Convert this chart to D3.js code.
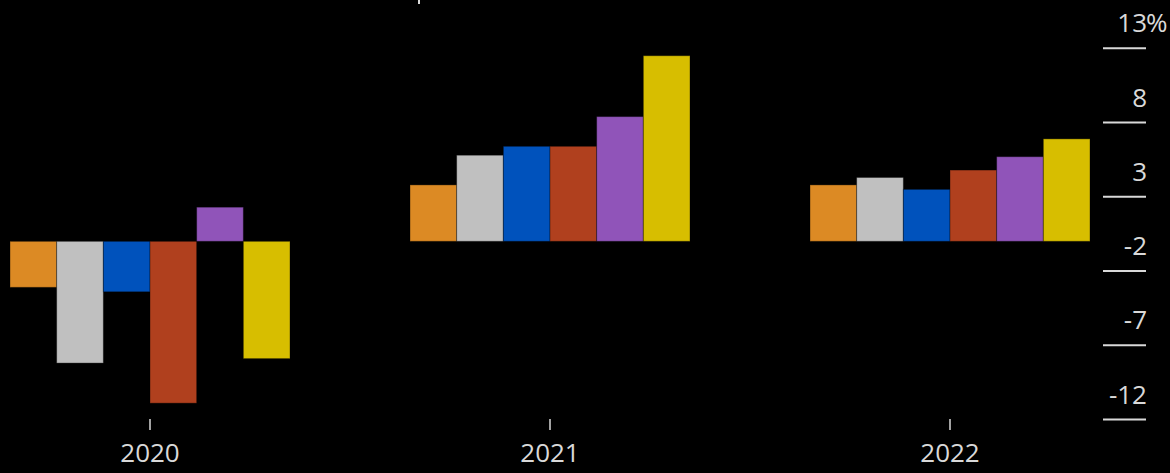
<!DOCTYPE html>
<html>
<head>
<meta charset="utf-8">
<script src="https://cdn.jsdelivr.net/npm/d3@7"></script>
<style>
  html, body { margin: 0; padding: 0; background: #000; }
  svg { display: block; }
  text { font-family: "Open Sans", sans-serif; fill: #d9d9d9; }
</style>
</head>
<body>
<div id="chart"></div>
<script>
// years and series
var years = ["2020", "2021", "2022"];
var seriesNames = ["s1", "s2", "s3", "s4", "s5", "s6"];
var seriesColors = ["#dc8a24", "#c0c0c0", "#0052bc", "#b0401e", "#9054b9", "#d7be00"];

// values per year (%), one per series
var values2020 = [-3.1, -8.2, -3.4, -10.9, 2.3, -7.9];
var values2021 = [3.8, 5.8, 6.4, 6.4, 8.4, 12.5];
var values2022 = [3.8, 4.3, 3.5, 4.8, 5.7, 6.9];

var yTicks = [-12, -7, -2, 3, 8, 13];

var allValues = [values2020, values2021, values2022];
var data = [];
years.forEach(function(yr, i) {
  seriesNames.forEach(function(s, j) {
    data.push({year: yr, series: s, value: allValues[i][j]});
  });
});

// set the dimensions
var width = 1170,
    height = 473;

var svg = d3.select("#chart")
    .append("svg")
    .attr("width", width)
    .attr("height", height);

svg.append("rect")
    .attr("width", width)
    .attr("height", height)
    .attr("fill", "#000");

// scales
var x0 = d3.scaleBand()
    .domain(years)
    .range([-50, 1150])
    .paddingInner(0.3)
    .paddingOuter(0.15);

var x1 = d3.scaleBand()
    .domain(seriesNames)
    .range([0, x0.bandwidth()]);

var color = d3.scaleOrdinal()
    .domain(seriesNames)
    .range(seriesColors);

var yScale = d3.scaleLinear()
    .domain([-12, 13])
    .range([419.5, 48.3]);

// bars
svg.append("g")
  .selectAll("rect")
  .data(data)
  .enter()
  .append("rect")
    .attr("x", function(d) { return x0(d.year) + x1(d.series); })
    .attr("y", function(d) { return yScale(Math.max(0, d.value)); })
    .attr("width", x1.bandwidth())
    .attr("height", function(d) { return Math.abs(yScale(d.value) - yScale(0)); })
    .attr("fill", function(d) { return color(d.series); })
    .attr("stroke", "rgba(0,0,0,0.35)")
    .attr("stroke-width", 1);

// x axis: small ticks + year labels
var xAxis = svg.append("g")
    .attr("transform", "translate(0,419)")
    .call(d3.axisBottom(x0).tickSize(11).tickPadding(14));
xAxis.select(".domain").remove();
xAxis.selectAll(".tick line").attr("stroke", "#d9d9d9").attr("stroke-width", 1.5);
xAxis.selectAll(".tick text")
    .attr("font-size", 26)
    .attr("font-family", "Open Sans, sans-serif")
    .attr("fill", "#d9d9d9");

// y axis on the right: short lines with labels above them
var yAxis = svg.append("g");
var yt = yAxis.selectAll(".ytick")
    .data(yTicks)
    .enter()
    .append("g")
    .attr("class", "ytick")
    .attr("transform", function(d) { return "translate(0," + yScale(d) + ")"; });

yt.append("line")
    .attr("x1", 1103)
    .attr("x2", 1146)
    .attr("stroke", "#d9d9d9")
    .attr("stroke-width", 2);

yt.append("text")
    .attr("x", 1147)
    .attr("y", -16)
    .attr("text-anchor", "end")
    .attr("font-size", 26)
    .text(function(d) { return d; });

yt.filter(function(d) { return d === d3.max(yTicks); })
  .append("text")
    .attr("x", 1146)
    .attr("y", -16)
    .attr("font-size", 26)
    .text("%");

// bit of a cut-off title at the top edge
svg.append("rect")
    .attr("x", 418)
    .attr("y", 0)
    .attr("width", 2)
    .attr("height", 4)
    .attr("fill", "#d9d9d9");
</script>
</body>
</html>
